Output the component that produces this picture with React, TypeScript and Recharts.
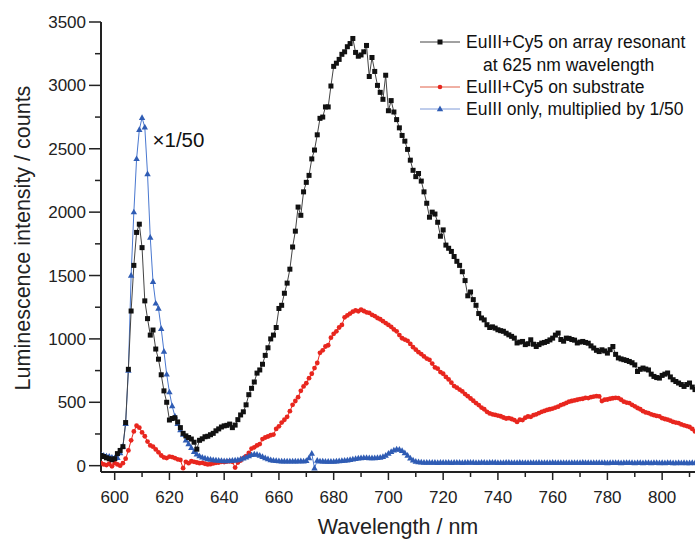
import { LineChart, Line, XAxis, YAxis, Legend, ReferenceDot, Label } from 'recharts';

const FONT = '"Liberation Sans", Arial, sans-serif';

// sampling grid: 1 nm steps from 595 nm
const WL_START = 595;

// EuIII+Cy5 on array resonant at 625 nm wavelength
const arrayResonant = [
  80, 72, 62, 55, 47, 55, 95, 120, 150, 340,
  760, 1220, 1580, 1840, 1905, 1720, 1300, 1160, 1030, 1070,
  920, 840, 717, 590, 500, 360, 372, 378, 345, 300,
  255, 235, 222, 210, 185, 130, 200, 212, 228, 232,
  244, 255, 275, 290, 305, 314, 318, 328, 300, 320,
  363, 400, 425, 480, 560, 610, 660, 730, 755, 800,
  870, 930, 1000, 1030, 1090, 1240, 1265, 1360, 1440, 1550,
  1725, 1850, 2040, 1975, 2160, 2235, 2290, 2420, 2490, 2610,
  2740, 2750, 2830, 2830, 2995, 3150, 3175, 3205, 3245, 3265,
  3305, 3330, 3370, 3260, 3230, 3240, 3265, 3315, 3070, 3220,
  3110, 3000, 2945, 2890, 3080, 2800, 2880, 2790, 2730, 2665,
  2605, 2560, 2495, 2410, 2330, 2280, 2305, 2245, 2160, 2070,
  1960, 2000, 1985, 1920, 1810, 1860, 1740, 1715, 1690, 1650,
  1612, 1580, 1530, 1460, 1340, 1370, 1310, 1265, 1200, 1165,
  1150, 1112, 1090, 1095, 1085, 1072, 1065, 1060, 1045, 1032,
  1020, 1006, 968, 975, 980, 955, 962, 993, 958, 940,
  955, 967, 972, 980, 992, 1006, 1030, 1046, 995, 982,
  1006, 1004, 995, 990, 968, 975, 980, 972, 966, 945,
  928, 910, 900, 914, 905, 888, 915, 940, 878, 850,
  842, 836, 830, 822, 812, 795, 743, 760, 770, 762,
  755, 722, 704, 695, 691, 712, 722, 731, 700, 678,
  664, 652, 640, 625, 640, 652, 620, 600,
];

// EuIII+Cy5 on substrate
const onSubstrate = [
  20, 10, 5, 15, -5, 20, 10, 0, 20, 55,
  120, 200, 270, 315, 300, 262, 232, 190, 160, 150,
  128, 105, 80, 65, 60, 72, 68, 60, 50, 45,
  -20, 30, 20, 35, 30, 25, 20, 22, 15, 10,
  12, 18, 22, 25, 30, 28, 32, 34, 30, -15,
  25, 40, 60, 75, 100, 135, 145, 160, 170, 210,
  222, 230, 240, 245, 290, 310, 340, 362, 385, 430,
  480, 510, 540, 590, 625, 650, 690, 725, 770, 810,
  890, 910, 940, 950, 1010, 1040, 1060, 1090, 1110, 1170,
  1185, 1200, 1215, 1225, 1218, 1230, 1220, 1210, 1205, 1190,
  1180, 1165, 1155, 1140, 1125, 1110, 1095, 1075, 1060, 1030,
  1005, 995, 985, 960, 935, 915, 895, 880, 862, 845,
  835, 805, 775, 765, 738, 725, 700, 680, 655, 628,
  615, 600, 586, 565, 548, 530, 512, 494, 478, 458,
  445, 425, 412, 405, 400, 395, 390, 380, 372, 375,
  368, 360, 345, 362, 360, 378, 388, 385, 398, 405,
  415, 425, 432, 440, 445, 450, 458, 465, 478, 485,
  495, 505, 510, 515, 520, 525, 528, 535, 533, 540,
  545, 548, 546, 510, 520, 522, 528, 532, 535, 533,
  520, 505, 498, 494, 480, 468, 455, 445, 430, 420,
  415, 405, 398, 392, 389, 375, 368, 363, 355, 345,
  340, 336, 325, 318, 312, 305, 290, 270,
];

// EuIII only, multiplied by 1/50
const euOnly = [
  85, 80, 75, 72, 65, 60, 62, 100, 150, 330,
  750, 1500, 2000, 2420, 2650, 2745, 2670, 2300, 1800, 1450,
  1280, 1240, 1080, 900, 720, 580, 470, 390, 330, 280,
  245, 200, 170, 140, 110, 90, 75, 65, 58, 52,
  48, 45, 42, 40, 38, 36, 36, 38, 40, 42,
  45, 50, 58, 66, 75, 85, 90, 88, 80, 70,
  60, 52, 45, 40, 38, 36, 35, 34, 34, 35,
  35, 34, 35, 36, 35, 38, 60, 95, -20, 40,
  35, 34, 33, 33, 32, 33, 34, 36, 38, 40,
  42, 46, 50, 55, 58, 60, 62, 62, 60, 60,
  61, 62, 64, 70, 80, 95, 110, 122, 130, 128,
  118, 100, 80, 58, 42, 32, 28, 26, 25, 25,
  24, 25, 24, 23, 24, 25, 24, 24, 23, 24,
  25, 24, 23, 24, 24, 25, 24, 23, 23, 24,
  24, 23, 24, 25, 24, 23, 22, 23, 24, 24,
  23, 22, 23, 24, 23, 22, 23, 23, 22, 23,
  24, 23, 22, 23, 23, 24, 23, 22, 22, 23,
  23, 22, 23, 22, 22, 23, 24, 23, 22, 22,
  23, 22, 22, 23, 22, 21, 22, 23, 22, 22,
  21, 22, 22, 23, 22, 21, 22, 22, 21, 22,
  22, 21, 22, 22, 21, 22, 21, 22, 22, 21,
  21, 22, 21, 22, 21, 21, 22, 21,
];

const xTicks = [600, 610, 620, 630, 640, 650, 660, 670, 680, 690, 700, 710, 720, 730, 740, 750, 760, 770, 780, 790, 800, 810];
const yTicks = [0, 250, 500, 750, 1000, 1250, 1500, 1750, 2000, 2250, 2500, 2750, 3000, 3250, 3500];
const yTicksRight = [0, 500, 1000, 1500, 2000, 2500, 3000, 3500];

const data = arrayResonant.map((v, i) => ({
  wl: WL_START + i,
  resonant: v,
  substrate: onSubstrate[i],
  only: euOnly[i],
}));

const BLACK = '#111';
const RED = '#e8261e';
const BLUE = '#2f5cb4';

const SquareDot = (p: any) =>
  p.cx == null ? null : (
    <rect key={`sq-${p.index}`} x={p.cx - 2.5} y={p.cy - 2.5} width={5} height={5} fill={BLACK} />
  );

const CircleDot = (p: any) =>
  p.cx == null ? null : <circle key={`ci-${p.index}`} cx={p.cx} cy={p.cy} r={2.4} fill={RED} />;

const TriDot = (p: any) =>
  p.cx == null ? null : (
    <path
      key={`tr-${p.index}`}
      d={`M${p.cx},${p.cy - 3.5} L${p.cx + 3.2},${p.cy + 2.2} L${p.cx - 3.2},${p.cy + 2.2} Z`}
      fill={BLUE}
    />
  );

const BottomTick = ({ x, y, payload }: any) => {
  const major = payload.value % 20 === 0;
  return (
    <g>
      <line x1={x} y1={y} x2={x} y2={y + (major ? 8 : 5)} stroke="#222" strokeWidth={1.5} />
      {major && (
        <text x={x} y={y + 31} textAnchor="middle" fontSize={17} fontFamily={FONT} fill="#222">
          {payload.value}
        </text>
      )}
    </g>
  );
};

const TopTick = ({ x, y, payload }: any) => {
  const major = payload.value % 20 === 0;
  return <line x1={x} y1={y} x2={x} y2={y + (major ? 8 : 5)} stroke="#222" strokeWidth={1.5} />;
};

const LeftTick = ({ x, y, payload }: any) => {
  const major = payload.value % 500 === 0;
  return (
    <g>
      <line x1={x - (major ? 12 : 6)} y1={y} x2={x} y2={y} stroke="#222" strokeWidth={1.5} />
      {major && (
        <text x={x - 15} y={y + 6} textAnchor="end" fontSize={17} fontFamily={FONT} fill="#222">
          {payload.value}
        </text>
      )}
    </g>
  );
};

const RightTick = ({ x, y }: any) => <line x1={x - 4} y1={y} x2={x} y2={y} stroke="#444" strokeWidth={1} />;

const LegendBox = () => (
  <svg width={290} height={100} style={{ display: 'block' }}>
    <g fontFamily={FONT} fontSize={17.5} fill="#111">
      <line x1={10} y1={22} x2={50} y2={22} stroke="#444" strokeWidth={1} />
      <rect x={27.5} y={19.5} width={5} height={5} fill={BLACK} />
      <text x={56} y={28}>EuIII+Cy5 on array resonant</text>
      <text x={73} y={51}>at 625 nm wavelength</text>

      <line x1={10} y1={67} x2={50} y2={67} stroke="#e06048" strokeWidth={1} />
      <circle cx={30} cy={67} r={2.3} fill={RED} />
      <text x={56} y={73}>EuIII+Cy5 on substrate</text>

      <line x1={10} y1={89} x2={50} y2={89} stroke="#7f9ad8" strokeWidth={1} />
      <path d="M30,85.5 L33.2,91.2 L26.8,91.2 Z" fill={BLUE} />
      <text x={56} y={95}>EuIII only, multiplied by 1/50</text>
    </g>
  </svg>
);

export default function App() {
  return (
    <div style={{ position: 'absolute', left: 0, top: 0, background: '#fff' }}>
      <LineChart width={696} height={542} data={data} margin={{ top: 22, right: 1, bottom: 0, left: 0 }}>
        <XAxis
          dataKey="wl"
          type="number"
          domain={[595, 812]}
          allowDataOverflow
          ticks={xTicks}
          interval={0}
          tick={BottomTick}
          tickLine={false}
          tickSize={0}
          tickMargin={0}
          height={70}
          axisLine={{ stroke: '#222', strokeWidth: 2 }}
        >
          <Label
            content={() => (
              <text x={398} y={534} textAnchor="middle" fontSize={21.5} fontFamily={FONT} fill="#222">
                Wavelength / nm
              </text>
            )}
          />
        </XAxis>
        <XAxis
          xAxisId="top"
          orientation="top"
          type="number"
          domain={[595, 812]}
          allowDataOverflow
          ticks={xTicks}
          interval={0}
          tick={TopTick}
          tickLine={false}
          tickSize={0}
          tickMargin={0}
          height={0}
          axisLine={{ stroke: '#222', strokeWidth: 1.5 }}
        />
        <YAxis
          type="number"
          domain={[-50, 3500]}
          allowDataOverflow
          ticks={yTicks}
          interval={0}
          tick={LeftTick}
          tickLine={false}
          tickSize={0}
          tickMargin={0}
          width={101}
          axisLine={{ stroke: '#222', strokeWidth: 2 }}
        >
          <Label
            content={() => (
              <text
                x={30}
                y={238}
                transform="rotate(-90 30 238)"
                textAnchor="middle"
                fontSize={21.5}
                fontFamily={FONT}
                fill="#222"
              >
                Luminescence intensity / counts
              </text>
            )}
          />
        </YAxis>
        <YAxis
          yAxisId="right"
          orientation="right"
          type="number"
          domain={[-50, 3500]}
          allowDataOverflow
          ticks={yTicksRight}
          interval={0}
          tick={RightTick}
          tickLine={false}
          tickSize={0}
          tickMargin={0}
          width={0}
          axisLine={{ stroke: '#444', strokeWidth: 1 }}
        />
        <Line
          type="linear"
          dataKey="substrate"
          stroke={RED}
          strokeWidth={1}
          dot={CircleDot}
          activeDot={false}
          isAnimationActive={false}
        />
        <Line
          type="linear"
          dataKey="only"
          stroke="#4a78d0"
          strokeWidth={1}
          dot={TriDot}
          activeDot={false}
          isAnimationActive={false}
        />
        <Line
          type="linear"
          dataKey="resonant"
          stroke="#444"
          strokeWidth={1}
          dot={SquareDot}
          activeDot={false}
          isAnimationActive={false}
        />
        <ReferenceDot x={612} y={2570} r={1} fill="none" stroke="none">
          <Label value="×1/50" position="right" offset={4} fontSize={20.5} fontFamily={FONT} fill="#111" />
        </ReferenceDot>
        <Legend
          layout="vertical"
          align="center"
          verticalAlign="middle"
          wrapperStyle={{ left: 410, top: 20, width: 290, height: 100 }}
          content={LegendBox}
        />
      </LineChart>
    </div>
  );
}
